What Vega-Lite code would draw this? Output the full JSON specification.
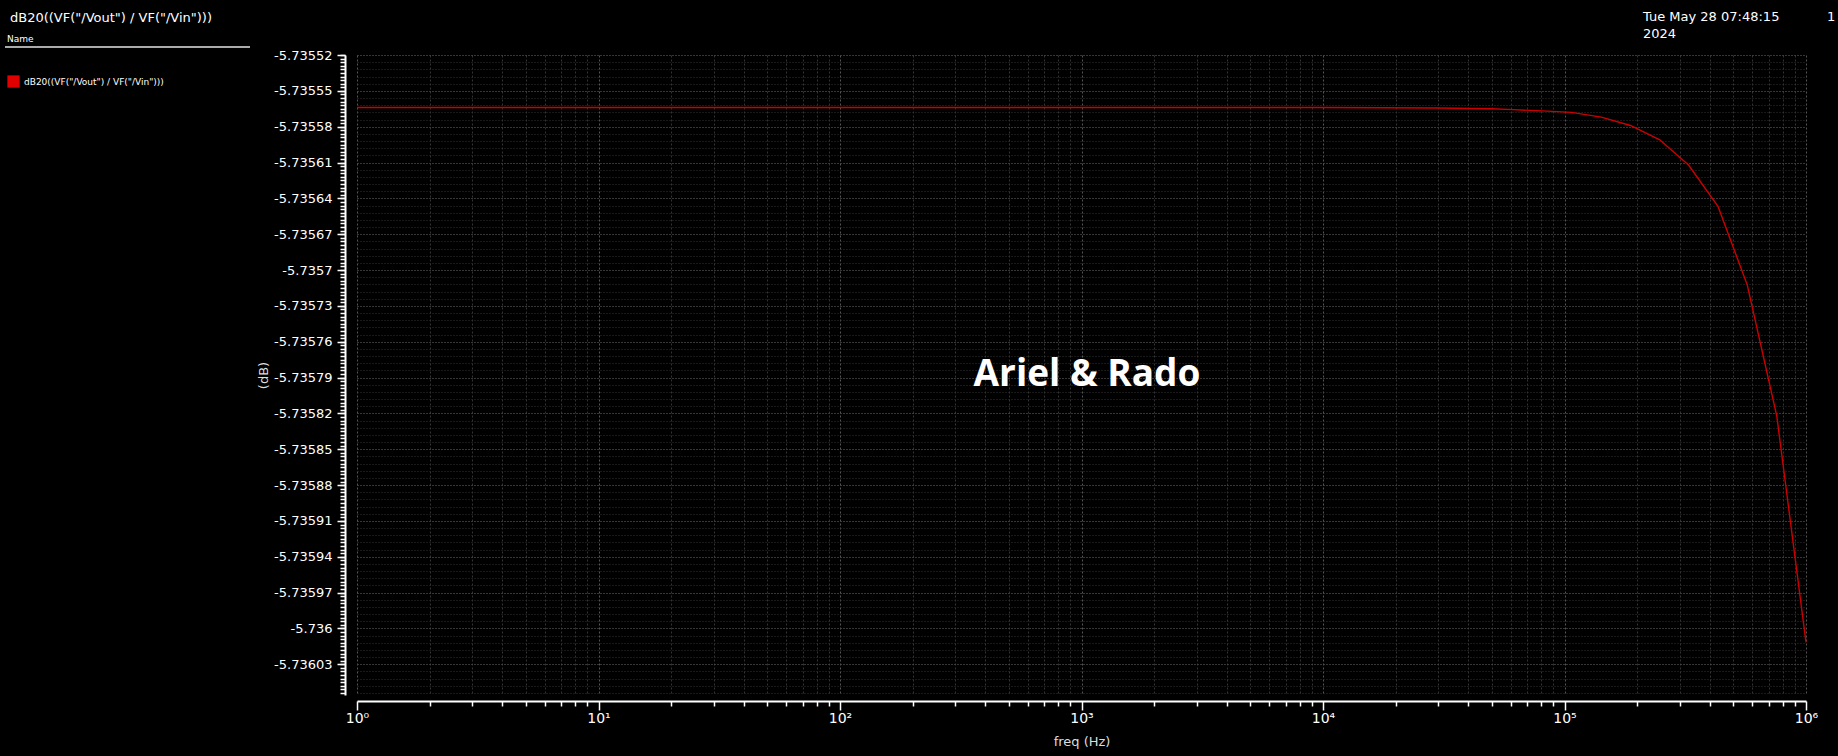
{
  "$schema": "https://vega.github.io/schema/vega-lite/v6.json",
  "autosize": {"type": "none"},
  "padding": {"left": 357, "top": 55, "right": 32, "bottom": 61},
  "width": 1449,
  "height": 640,
  "background": "#000000",
  "config": {
    "view": {"stroke": null, "fill": "#000000"},
    "font": "DejaVu Sans",
    "axis": {"labelFont": "DejaVu Sans", "titleFont": "DejaVu Sans"}
  },
  "datasets": {
    "curve": [
      {"freq": 1, "dB": -5.735564, "series": "dB20((VF(\"/Vout\") / VF(\"/Vin\")))"},
      {"freq": 10, "dB": -5.735564, "series": "dB20((VF(\"/Vout\") / VF(\"/Vin\")))"},
      {"freq": 100, "dB": -5.735564, "series": "dB20((VF(\"/Vout\") / VF(\"/Vin\")))"},
      {"freq": 1000, "dB": -5.735564, "series": "dB20((VF(\"/Vout\") / VF(\"/Vin\")))"},
      {"freq": 10000, "dB": -5.735564, "series": "dB20((VF(\"/Vout\") / VF(\"/Vin\")))"},
      {"freq": 30000, "dB": -5.7355643, "series": "dB20((VF(\"/Vout\") / VF(\"/Vin\")))"},
      {"freq": 50000, "dB": -5.735565, "series": "dB20((VF(\"/Vout\") / VF(\"/Vin\")))"},
      {"freq": 61000, "dB": -5.7355657, "series": "dB20((VF(\"/Vout\") / VF(\"/Vin\")))"},
      {"freq": 81000, "dB": -5.7355668, "series": "dB20((VF(\"/Vout\") / VF(\"/Vin\")))"},
      {"freq": 107000, "dB": -5.735568, "series": "dB20((VF(\"/Vout\") / VF(\"/Vin\")))"},
      {"freq": 142000, "dB": -5.735572, "series": "dB20((VF(\"/Vout\") / VF(\"/Vin\")))"},
      {"freq": 187500, "dB": -5.735579, "series": "dB20((VF(\"/Vout\") / VF(\"/Vin\")))"},
      {"freq": 248000, "dB": -5.735591, "series": "dB20((VF(\"/Vout\") / VF(\"/Vin\")))"},
      {"freq": 327000, "dB": -5.7356123, "series": "dB20((VF(\"/Vout\") / VF(\"/Vin\")))"},
      {"freq": 432000, "dB": -5.7356467, "series": "dB20((VF(\"/Vout\") / VF(\"/Vin\")))"},
      {"freq": 571000, "dB": -5.7357124, "series": "dB20((VF(\"/Vout\") / VF(\"/Vin\")))"},
      {"freq": 757000, "dB": -5.7358223, "series": "dB20((VF(\"/Vout\") / VF(\"/Vin\")))"},
      {"freq": 1000000, "dB": -5.7360117, "series": "dB20((VF(\"/Vout\") / VF(\"/Vin\")))"}
    ]
  },
  "resolve": {"axis": {"x": "independent", "y": "independent"}},
  "layer": [
    {
      "data": {"name": "curve"},
      "mark": {"type": "line", "opacity": 0},
      "encoding": {
        "x": {
          "field": "freq", "type": "quantitative",
          "scale": {"type": "log", "domain": [1, 1000000], "nice": false},
          "axis": null
        },
        "y": {
          "field": "dB", "type": "quantitative",
          "scale": {"domain": [-5.7360557, -5.73552], "nice": false, "zero": false},
          "axis": {
            "orient": "left", "offset": 12, "title": null, "labels": false,
            "domain": false, "ticks": false, "grid": true,
            "gridColor": "#333333", "gridDash": [1, 2], "gridWidth": 1,
            "values": [-5.73552,-5.735526,-5.735532,-5.735538,-5.735544,-5.73555,-5.735556,-5.735562,-5.735568,-5.735574,-5.73558,-5.735586,-5.735592,-5.735598,-5.735604,-5.73561,-5.735616,-5.735622,-5.735628,-5.735634,-5.73564,-5.735646,-5.735652,-5.735658,-5.735664,-5.73567,-5.735676,-5.735682,-5.735688,-5.735694,-5.7357,-5.735706,-5.735712,-5.735718,-5.735724,-5.73573,-5.735736,-5.735742,-5.735748,-5.735754,-5.73576,-5.735766,-5.735772,-5.735778,-5.735784,-5.73579,-5.735796,-5.735802,-5.735808,-5.735814,-5.73582,-5.735826,-5.735832,-5.735838,-5.735844,-5.73585,-5.735856,-5.735862,-5.735868,-5.735874,-5.73588,-5.735886,-5.735892,-5.735898,-5.735904,-5.73591,-5.735916,-5.735922,-5.735928,-5.735934,-5.73594,-5.735946,-5.735952,-5.735958,-5.735964,-5.73597,-5.735976,-5.735982,-5.735988,-5.735994,-5.736,-5.736006,-5.736012,-5.736018,-5.736024,-5.73603,-5.736036,-5.736042,-5.736048,-5.736054]
          }
        }
      }
    },
    {
      "data": {"name": "curve"},
      "mark": {"type": "line", "opacity": 0},
      "encoding": {
        "x": {
          "field": "freq", "type": "quantitative",
          "scale": {"type": "log", "domain": [1, 1000000], "nice": false},
          "axis": {
            "orient": "bottom", "offset": 6, "title": null, "labels": false,
            "domain": false, "ticks": true, "tickSize": 5, "tickColor": "#ffffff", "tickWidth": 1.5,
            "grid": true, "gridColor": "#333333", "gridDash": [2, 2], "gridWidth": 1,
            "values": [2,3,4,5,6,7,8,9,20,30,40,50,60,70,80,90,200,300,400,500,600,700,800,900,2000,3000,4000,5000,6000,7000,8000,9000,20000,30000,40000,50000,60000,70000,80000,90000,200000,300000,400000,500000,600000,700000,800000,900000]
          }
        },
        "y": {
          "field": "dB", "type": "quantitative",
          "scale": {"domain": [-5.7360557, -5.73552], "nice": false, "zero": false},
          "axis": {
            "orient": "left", "offset": 12, "title": null, "labels": false,
            "domain": false, "ticks": true, "tickSize": 5, "tickColor": "#ffffff", "tickWidth": 1.5, "grid": false,
            "values": [-5.73552,-5.735523,-5.735526,-5.735529,-5.735532,-5.735535,-5.735538,-5.735541,-5.735544,-5.735547,-5.73555,-5.735553,-5.735556,-5.735559,-5.735562,-5.735565,-5.735568,-5.735571,-5.735574,-5.735577,-5.73558,-5.735583,-5.735586,-5.735589,-5.735592,-5.735595,-5.735598,-5.735601,-5.735604,-5.735607,-5.73561,-5.735613,-5.735616,-5.735619,-5.735622,-5.735625,-5.735628,-5.735631,-5.735634,-5.735637,-5.73564,-5.735643,-5.735646,-5.735649,-5.735652,-5.735655,-5.735658,-5.735661,-5.735664,-5.735667,-5.73567,-5.735673,-5.735676,-5.735679,-5.735682,-5.735685,-5.735688,-5.735691,-5.735694,-5.735697,-5.7357,-5.735703,-5.735706,-5.735709,-5.735712,-5.735715,-5.735718,-5.735721,-5.735724,-5.735727,-5.73573,-5.735733,-5.735736,-5.735739,-5.735742,-5.735745,-5.735748,-5.735751,-5.735754,-5.735757,-5.73576,-5.735763,-5.735766,-5.735769,-5.735772,-5.735775,-5.735778,-5.735781,-5.735784,-5.735787,-5.73579,-5.735793,-5.735796,-5.735799,-5.735802,-5.735805,-5.735808,-5.735811,-5.735814,-5.735817,-5.73582,-5.735823,-5.735826,-5.735829,-5.735832,-5.735835,-5.735838,-5.735841,-5.735844,-5.735847,-5.73585,-5.735853,-5.735856,-5.735859,-5.735862,-5.735865,-5.735868,-5.735871,-5.735874,-5.735877,-5.73588,-5.735883,-5.735886,-5.735889,-5.735892,-5.735895,-5.735898,-5.735901,-5.735904,-5.735907,-5.73591,-5.735913,-5.735916,-5.735919,-5.735922,-5.735925,-5.735928,-5.735931,-5.735934,-5.735937,-5.73594,-5.735943,-5.735946,-5.735949,-5.735952,-5.735955,-5.735958,-5.735961,-5.735964,-5.735967,-5.73597,-5.735973,-5.735976,-5.735979,-5.735982,-5.735985,-5.735988,-5.735991,-5.735994,-5.735997,-5.736,-5.736003,-5.736006,-5.736009,-5.736012,-5.736015,-5.736018,-5.736021,-5.736024,-5.736027,-5.73603,-5.736033,-5.736036,-5.736039,-5.736042,-5.736045,-5.736048,-5.736051,-5.736054]
          }
        }
      }
    },
    {
      "data": {"name": "curve"},
      "mark": {"type": "line", "strokeWidth": 1.4, "interpolate": "linear"},
      "encoding": {
        "x": {
          "field": "freq", "type": "quantitative",
          "scale": {"type": "log", "domain": [1, 1000000], "nice": false},
          "axis": {
            "orient": "bottom", "offset": 6, "title": "freq (Hz)",
            "values": [1, 10, 100, 1000, 10000, 100000, 1000000],
            "labelExpr": "['10⁰','10¹','10²','10³','10⁴','10⁵','10⁶'][round(log(datum.value)/LN10)]",
            "labelFontSize": 14, "labelColor": "#ffffff", "labelPadding": 1, "labelFlush": false,
            "domain": true, "domainColor": "#ffffff", "domainWidth": 2,
            "ticks": true, "tickSize": 9, "tickColor": "#ffffff", "tickWidth": 1.5,
            "grid": true, "gridColor": "#555555", "gridDash": [2, 2], "gridWidth": 1,
            "titleFontSize": 13, "titleFontWeight": "normal", "titleColor": "#dddddd", "titlePadding": 10
          }
        },
        "y": {
          "field": "dB", "type": "quantitative",
          "scale": {"domain": [-5.7360557, -5.73552], "nice": false, "zero": false},
          "axis": {
            "orient": "left", "offset": 12, "title": "(dB)",
            "values": [-5.73552,-5.73555,-5.73558,-5.73561,-5.73564,-5.73567,-5.7357,-5.73573,-5.73576,-5.73579,-5.73582,-5.73585,-5.73588,-5.73591,-5.73594,-5.73597,-5.736,-5.73603],
            "labelExpr": "replace(format(datum.value, '.6~g'), '−', '-')",
            "labelFontSize": 13, "labelColor": "#ffffff", "labelPadding": 5,
            "domain": true, "domainColor": "#ffffff", "domainWidth": 2,
            "ticks": true, "tickSize": 8, "tickColor": "#ffffff", "tickWidth": 1.5,
            "grid": true, "gridColor": "#555555", "gridDash": [1, 2], "gridWidth": 1,
            "titleFontSize": 13, "titleFontWeight": "normal", "titleColor": "#dddddd", "titlePadding": 3
          }
        },
        "color": {
          "field": "series", "type": "nominal",
          "scale": {"range": ["#cc0000"]},
          "legend": {
            "orient": "none", "legendX": -350, "legendY": -20,
            "title": "Name", "titleFont": "DejaVu Sans", "titleFontSize": 9, "titleFontWeight": "normal",
            "titleColor": "#ffffff", "titlePadding": 31,
            "labelFont": "DejaVu Sans", "labelFontSize": 9, "labelColor": "#ffffff", "labelOffset": 4,
            "symbolType": "square", "symbolSize": 150, "symbolFillColor": "#e00000", "symbolStrokeColor": "#e00000",
            "encode": {"symbols": {"update": {"fill": {"value": "#e00000"}, "stroke": {"value": "#e00000"}, "shape": {"value": "square"}, "strokeWidth": {"value": 0}}}}
          }
        }
      }
    },
    {
      "data": {"values": [{}]},
      "mark": {"type": "rule", "color": "#aaaaaa", "strokeWidth": 2},
      "encoding": {"x": {"value": -352}, "x2": {"value": -107}, "y": {"value": -8}}
    },
    {
      "data": {"values": [{}]},
      "mark": {"type": "text", "text": "dB20((VF(\"/Vout\") / VF(\"/Vin\")))", "font": "DejaVu Sans", "fontSize": 13, "color": "#ffffff", "align": "left", "baseline": "middle"},
      "encoding": {"x": {"value": -347}, "y": {"value": -37.5}}
    },
    {
      "data": {"values": [{}]},
      "mark": {"type": "text", "text": "Tue May 28 07:48:15", "font": "DejaVu Sans", "fontSize": 13, "color": "#ffffff", "align": "left", "baseline": "middle"},
      "encoding": {"x": {"value": 1286}, "y": {"value": -37.7}}
    },
    {
      "data": {"values": [{}]},
      "mark": {"type": "text", "text": "2024", "font": "DejaVu Sans", "fontSize": 13, "color": "#ffffff", "align": "left", "baseline": "middle"},
      "encoding": {"x": {"value": 1286}, "y": {"value": -21}}
    },
    {
      "data": {"values": [{}]},
      "mark": {"type": "text", "text": "1", "font": "DejaVu Sans", "fontSize": 13, "color": "#ffffff", "align": "left", "baseline": "middle"},
      "encoding": {"x": {"value": 1470}, "y": {"value": -37.7}}
    },
    {
      "data": {"values": [{}]},
      "mark": {"type": "text", "text": "Ariel & Rado", "font": "Open Sans", "fontWeight": "bold", "fontSize": 37, "color": "#ffffff", "align": "center", "baseline": "alphabetic"},
      "encoding": {"x": {"value": 730}, "y": {"value": 331}}
    }
  ]
}
